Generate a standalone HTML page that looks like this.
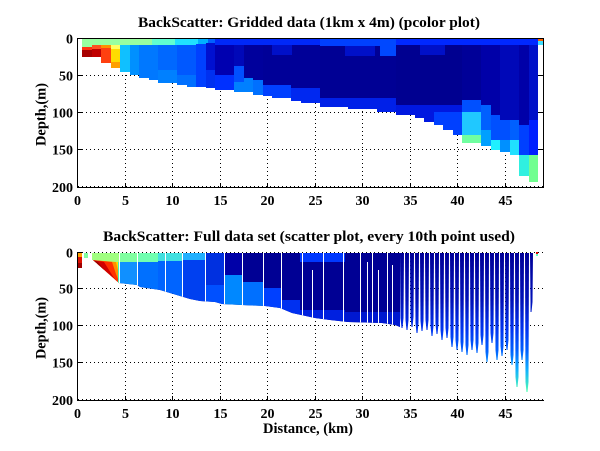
<!DOCTYPE html>
<html><head><meta charset="utf-8"><style>
html,body{margin:0;padding:0;background:#fff;}
svg{display:block;}
text{font-family:"Liberation Serif","Times New Roman",serif;font-weight:bold;fill:#000;}
</style></head><body>
<svg width="600" height="451" viewBox="0 0 600 451" xmlns="http://www.w3.org/2000/svg">
<defs>
<clipPath id="c1"><path d="M82 38 H543.5 V45 H538 V182 H529 V176 H519 V155 H510 V152 H500 V150 H491 V146 H481 V143 H462 V135 H453 V130 H443 V125 H434 V122 H424 V118 H415 V115 H396 V112 H377 V109 H348 V107 H320 V103 H301 V101 H291 V98 H272 V96 H263 V95 H253 V92 H234 V90 H215 V88 H206 V87 H187 V85 H177 V83 H158 V80 H149 V78 H139 V75 H130 V72 H120 V68 H111 V63 H101 V57 H82 Z"/></clipPath>
<clipPath id="c2"><path d="M92 253 H400 V327 L395 325 L382 323 L348 322 L330 320 L315 318 L292 313 L280 308 L265 306 L242 305 L222 304 L215 302 L200 301 L190 299 L180 296 L170 293 L160 290 L140 287 L137 285 L119 283 L93 260 L92 260 Z"/></clipPath>
<linearGradient id="comb" gradientUnits="userSpaceOnUse" x1="0" y1="253" x2="0" y2="392">
<stop offset="0" stop-color="#000098"/>
<stop offset="0.34" stop-color="#0010b8"/>
<stop offset="0.55" stop-color="#0034f0"/>
<stop offset="0.70" stop-color="#0060ff"/>
<stop offset="0.84" stop-color="#10b0ff"/>
<stop offset="1" stop-color="#50ffb0"/>
</linearGradient>
</defs>
<rect width="600" height="451" fill="#fff"/>

<!-- top grid -->
<g stroke="#000" stroke-width="1" stroke-dasharray="1 3" fill="none">
<path d="M125.5 39V187 M172.5 39V187 M220.5 39V187 M267.5 39V187 M315.5 39V187 M362.5 39V187 M410.5 39V187 M457.5 39V187 M505.5 39V187"/>
<path d="M78 75.5H543 M78 112.5H543 M78 149.5H543 M78 186.5H543"/>
</g>

<!-- top pcolor -->
<g clip-path="url(#c1)" shape-rendering="crispEdges">
<rect x="78" y="38" width="466" height="150" fill="#0018f0"/>
<rect x="82" y="38" width="70" height="7" fill="#98ffa0"/>
<rect x="152" y="38" width="23" height="7" fill="#60ffd0"/>
<rect x="175" y="38" width="23" height="7" fill="#20e0ff"/>
<rect x="198" y="38" width="10" height="6" fill="#00b0ff"/>
<rect x="208" y="38" width="7" height="5" fill="#0060ff"/>
<rect x="82" y="45" width="10" height="2" fill="#98ffa0"/>
<rect x="82" y="47" width="10" height="3" fill="#ff3010"/>
<rect x="82" y="50" width="10" height="8" fill="#a80000"/>
<rect x="92" y="45" width="9" height="4" fill="#ff5020"/>
<rect x="92" y="49" width="9" height="9" fill="#c00000"/>
<rect x="101" y="45" width="10" height="3" fill="#ff9000"/>
<rect x="101" y="48" width="10" height="16" fill="#ff4010"/>
<rect x="111" y="45" width="9" height="4" fill="#ffff60"/>
<rect x="111" y="49" width="9" height="13" fill="#ffdc00"/>
<rect x="111" y="62" width="9" height="7" fill="#ffa000"/>
<rect x="120" y="45" width="10" height="28" fill="#10c0ff"/>
<rect x="130" y="45" width="9" height="31" fill="#0090ff"/>
<rect x="139" y="45" width="19" height="36" fill="#0078ff"/>
<rect x="158" y="45" width="19" height="39" fill="#0068ff"/>
<rect x="158" y="70" width="19" height="14" fill="#0080ff"/>
<rect x="177" y="45" width="19" height="43" fill="#0058ff"/>
<rect x="177" y="75" width="19" height="13" fill="#0070ff"/>
<rect x="196" y="44" width="10" height="44" fill="#0040ff"/>
<rect x="206" y="43" width="9" height="27" fill="#0010d0"/>
<rect x="206" y="70" width="9" height="19" fill="#0030f0"/>
<rect x="215" y="38" width="105" height="7" fill="#0028f8"/>
<rect x="215" y="45" width="19" height="30" fill="#0000b0"/>
<rect x="215" y="75" width="19" height="16" fill="#0030ff"/>
<rect x="234" y="45" width="10" height="21" fill="#0008b8"/>
<rect x="234" y="66" width="10" height="16" fill="#0050ff"/>
<rect x="234" y="82" width="10" height="11" fill="#0080ff"/>
<rect x="244" y="45" width="9" height="33" fill="#00009c"/>
<rect x="244" y="78" width="9" height="15" fill="#0080ff"/>
<rect x="253" y="45" width="10" height="35" fill="#00009c"/>
<rect x="253" y="80" width="10" height="16" fill="#0070ff"/>
<rect x="263" y="45" width="28" height="40" fill="#000098"/>
<rect x="263" y="85" width="28" height="14" fill="#0040ff"/>
<rect x="291" y="45" width="29" height="43" fill="#000098"/>
<rect x="291" y="88" width="29" height="16" fill="#0028f0"/>
<rect x="272" y="45" width="20" height="10" fill="#0010c8"/>
<rect x="320" y="38" width="76" height="8" fill="#0040ff"/>
<rect x="320" y="46" width="76" height="52" fill="#000094"/>
<rect x="320" y="98" width="76" height="15" fill="#0020e8"/>
<rect x="345" y="46" width="30" height="10" fill="#0010c8"/>
<rect x="380" y="40" width="20" height="16" fill="#0048ff"/>
<rect x="396" y="38" width="142" height="7" fill="#0028ff"/>
<rect x="396" y="45" width="66" height="60" fill="#000090"/>
<rect x="396" y="105" width="66" height="31" fill="#0018e0"/>
<rect x="434" y="112" width="28" height="24" fill="#0040ff"/>
<rect x="420" y="45" width="25" height="10" fill="#0010c8"/>
<rect x="462" y="45" width="19" height="55" fill="#000098"/>
<rect x="462" y="100" width="19" height="12" fill="#0050ff"/>
<rect x="462" y="112" width="19" height="23" fill="#20c8ff"/>
<rect x="462" y="135" width="19" height="9" fill="#70ffa0"/>
<rect x="481" y="45" width="10" height="60" fill="#0000a8"/>
<rect x="481" y="105" width="10" height="25" fill="#0060ff"/>
<rect x="481" y="130" width="10" height="17" fill="#00a0ff"/>
<rect x="491" y="45" width="9" height="70" fill="#0000a8"/>
<rect x="491" y="115" width="9" height="25" fill="#0050ff"/>
<rect x="491" y="140" width="9" height="11" fill="#20f0ff"/>
<rect x="500" y="45" width="10" height="75" fill="#0008b8"/>
<rect x="500" y="120" width="10" height="20" fill="#0050ff"/>
<rect x="500" y="140" width="10" height="13" fill="#0090ff"/>
<rect x="510" y="45" width="9" height="75" fill="#0008b8"/>
<rect x="510" y="120" width="9" height="20" fill="#0060ff"/>
<rect x="510" y="140" width="9" height="16" fill="#20e0ff"/>
<rect x="519" y="45" width="10" height="80" fill="#0000a8"/>
<rect x="519" y="125" width="10" height="30" fill="#0040ff"/>
<rect x="519" y="155" width="10" height="22" fill="#30f0e0"/>
<rect x="529" y="45" width="9" height="75" fill="#0010c8"/>
<rect x="529" y="120" width="9" height="35" fill="#0020ff"/>
<rect x="529" y="155" width="9" height="28" fill="#70ff90"/>
<rect x="538" y="38" width="6" height="3" fill="#ff6000"/>
<rect x="538" y="41" width="6" height="4" fill="#40e0ff"/>
</g>

<!-- top axes -->
<g stroke="#000" stroke-width="1" fill="none" shape-rendering="crispEdges">
<rect x="77.5" y="38.5" width="466" height="149"/>
<path d="M125.5 187V183 M172.5 187V183 M220.5 187V183 M267.5 187V183 M315.5 187V183 M362.5 187V183 M410.5 187V183 M457.5 187V183 M505.5 187V183"/>
<path d="M78 75.5H82 M78 112.5H82 M78 149.5H82 M543 75.5H539 M543 112.5H539 M543 149.5H539"/>
</g>

<!-- bottom grid -->
<g stroke="#000" stroke-width="1" stroke-dasharray="1 3" fill="none">
<path d="M125.5 253V400 M172.5 253V400 M220.5 253V400 M267.5 253V400 M315.5 253V400 M362.5 253V400 M410.5 253V400 M457.5 253V400 M505.5 253V400"/>
<path d="M78 252.5H543 M78 288.5H543 M78 325.5H543 M78 362.5H543 M78 399.5H543"/>
</g>

<!-- bottom scatter approximation -->
<g shape-rendering="crispEdges">
<rect x="78" y="253" width="4" height="4" fill="#ffa000"/>
<rect x="78" y="257" width="4" height="6" fill="#e01000"/>
<rect x="78" y="263" width="4" height="5" fill="#a00000"/>
<rect x="84" y="253" width="4" height="5" fill="#80ffa0"/>
<rect x="536" y="252" width="2" height="2" fill="#e00000"/>
<rect x="536" y="254" width="2" height="2" fill="#60ffc0"/>
</g>
<g clip-path="url(#c2)">
<rect x="92" y="253" width="308" height="80" fill="#000094"/>
<rect x="92" y="253" width="28" height="9" fill="#a0ff80"/>
<rect x="92" y="262" width="28" height="22" fill="#ffe000"/>
<polygon points="92,260 116,262 118,270 120,284" fill="#ff9000"/>
<polygon points="92,260 112,262 116,274 120,284" fill="#ff3000"/>
<polygon points="92,260 104,262 114,278 120,284" fill="#d00000"/>
<polygon points="92,260 98,262 112,280 120,284" fill="#9a0000"/>
<rect x="118" y="262" width="2" height="22" fill="#40f0c0"/>
<rect x="120" y="253" width="17" height="9" fill="#80ffa0"/>
<rect x="120" y="262" width="17" height="28" fill="#1090ff"/>
<rect x="137" y="253" width="21" height="9" fill="#70ffb0"/>
<rect x="137" y="262" width="21" height="33" fill="#0070ff"/>
<rect x="158" y="253" width="24" height="8" fill="#40e0e0"/>
<rect x="158" y="261" width="24" height="39" fill="#0064ff"/>
<rect x="182" y="253" width="23" height="7" fill="#20b0ff"/>
<rect x="182" y="260" width="23" height="45" fill="#0040f0"/>
<rect x="205" y="253" width="20" height="32" fill="#0030e0"/>
<rect x="205" y="285" width="20" height="20" fill="#0050ff"/>
<rect x="225" y="253" width="17" height="22" fill="#0000a8"/>
<rect x="225" y="275" width="17" height="31" fill="#0088ff"/>
<rect x="242" y="282" width="21" height="24" fill="#0070ff"/>
<rect x="263" y="288" width="19" height="22" fill="#0040ff"/>
<rect x="282" y="300" width="18" height="15" fill="#0030f0"/>
<rect x="300" y="253" width="45" height="9" fill="#0038ff"/>
<rect x="300" y="310" width="45" height="12" fill="#0020e0"/>
<rect x="345" y="312" width="55" height="18" fill="#0018d0"/>
<g stroke="#fff" stroke-width="1">
<path d="M119.5 253V300 M137.5 253V300 M165.5 253V300 M182.5 253V310 M205.5 253V310 M224.5 253V310 M242.5 253V310 M263.5 253V310 M281.5 253V315 M302.5 253V320 M312.5 270V320 M323.5 253V325 M343.5 253V325 M360.5 253V325 M367.5 262V325 M372.5 253V325 M378.5 270V325 M387.5 253V330 M392.5 265V330"/>
</g>
</g>
<g fill="url(#comb)">
<polygon points="400,253 404,253 403.5,318 402.5,328 401.5,328 400.5,318"/>
<polygon points="405,253 409,253 408.5,320 407.5,330 406.5,330 405.5,320"/>
<polygon points="410,253 414,253 413.5,317 412.5,327 411.5,327 410.5,317"/>
<polygon points="415,253 419,253 418.5,323 417.5,333 416.5,333 415.5,323"/>
<polygon points="420,253 424,253 423.5,321 422.5,331 421.5,331 420.5,321"/>
<polygon points="425,253 429,253 428.5,320 427.5,330 426.5,330 425.5,320"/>
<polygon points="430,253 434,253 433.5,326 432.5,336 431.5,336 430.5,326"/>
<polygon points="435,253 439,253 438.5,324 437.5,334 436.5,334 435.5,324"/>
<polygon points="440,253 444,253 443.5,330 442.5,340 441.5,340 440.5,330"/>
<polygon points="445,253 449,253 448.5,328 447.5,338 446.5,338 445.5,328"/>
<polygon points="450,253 454,253 453.5,337 452.5,347 451.5,347 450.5,337"/>
<polygon points="455,253 459,253 458.5,340 457.5,350 456.5,350 455.5,340"/>
<polygon points="460,253 464,253 463.5,342 462.5,352 461.5,352 460.5,342"/>
<polygon points="465,253 469,253 468.5,345 467.5,355 466.5,355 465.5,345"/>
<polygon points="470,253 474,253 473.5,340 472.5,350 471.5,350 470.5,340"/>
<polygon points="475,253 479,253 478.5,343 477.5,353 476.5,353 475.5,343"/>
<polygon points="480,253 484,253 483.5,335 482.5,345 481.5,345 480.5,335"/>
<polygon points="485,253 489,253 488.5,352 487.5,362 486.5,362 485.5,352"/>
<polygon points="490,253 494,253 493.5,333 492.5,343 491.5,343 490.5,333"/>
<polygon points="495,253 499,253 498.5,350 497.5,360 496.5,360 495.5,350"/>
<polygon points="500,253 504,253 503.5,346 502.5,356 501.5,356 500.5,346"/>
<polygon points="505,253 509,253 508.5,340 507.5,350 506.5,350 505.5,340"/>
<polygon points="510,253 514,253 513.5,355 512.5,365 511.5,365 510.5,355"/>
<polygon points="515,253 519,253 518.5,377 517.5,387 516.5,387 515.5,377"/>
<polygon points="520,253 524,253 523.5,350 522.5,360 521.5,360 520.5,350"/>
<polygon points="525,253 529,253 528.5,382 527.5,392 526.5,392 525.5,382"/>
<polygon points="530,253 533,253 532.5,302 531.5,312 530.5,312 530.5,302"/>
</g>

<!-- bottom axes -->
<g stroke="#000" stroke-width="1" fill="none" shape-rendering="crispEdges">
<path d="M77.5 252V401 M77 400.5H544"/>
<path d="M125.5 400V396 M172.5 400V396 M220.5 400V396 M267.5 400V396 M315.5 400V396 M362.5 400V396 M410.5 400V396 M457.5 400V396 M505.5 400V396"/>
<path d="M78 252.5H82 M78 288.5H82 M78 325.5H82 M78 362.5H82"/>
</g>

<!-- titles & labels -->
<text x="309" y="27" text-anchor="middle" font-size="15" textLength="342" lengthAdjust="spacingAndGlyphs">BackScatter: Gridded data (1km x 4m) (pcolor plot)</text>
<text x="309" y="241" text-anchor="middle" font-size="15" textLength="412" lengthAdjust="spacingAndGlyphs">BackScatter: Full data set (scatter plot, every 10th point used)</text>
<text x="308" y="433" text-anchor="middle" font-size="15" textLength="90" lengthAdjust="spacingAndGlyphs">Distance, (km)</text>
<text transform="translate(45.5,114.5) rotate(-90)" text-anchor="middle" font-size="15" textLength="63" lengthAdjust="spacingAndGlyphs">Depth,(m)</text>
<text transform="translate(45.5,328) rotate(-90)" text-anchor="middle" font-size="15" textLength="62" lengthAdjust="spacingAndGlyphs">Depth,(m)</text>

<g font-size="14" text-anchor="end">
<text x="73" y="43.5">0</text>
<text x="73" y="80.5">50</text>
<text x="73" y="117.5">100</text>
<text x="73" y="154.5">150</text>
<text x="73" y="192">200</text>
<text x="73" y="257.5">0</text>
<text x="73" y="293.5">50</text>
<text x="73" y="330.5">100</text>
<text x="73" y="367.5">150</text>
<text x="73" y="405">200</text>
</g>
<g font-size="14" text-anchor="middle">
<text x="77.5" y="205">0</text>
<text x="125.5" y="205">5</text>
<text x="172.5" y="205">10</text>
<text x="220.5" y="205">15</text>
<text x="267.5" y="205">20</text>
<text x="315.5" y="205">25</text>
<text x="362.5" y="205">30</text>
<text x="410.5" y="205">35</text>
<text x="457.5" y="205">40</text>
<text x="505.5" y="205">45</text>
<text x="77.5" y="418">0</text>
<text x="125.5" y="418">5</text>
<text x="172.5" y="418">10</text>
<text x="220.5" y="418">15</text>
<text x="267.5" y="418">20</text>
<text x="315.5" y="418">25</text>
<text x="362.5" y="418">30</text>
<text x="410.5" y="418">35</text>
<text x="457.5" y="418">40</text>
<text x="505.5" y="418">45</text>
</g>
</svg>
</body></html>
